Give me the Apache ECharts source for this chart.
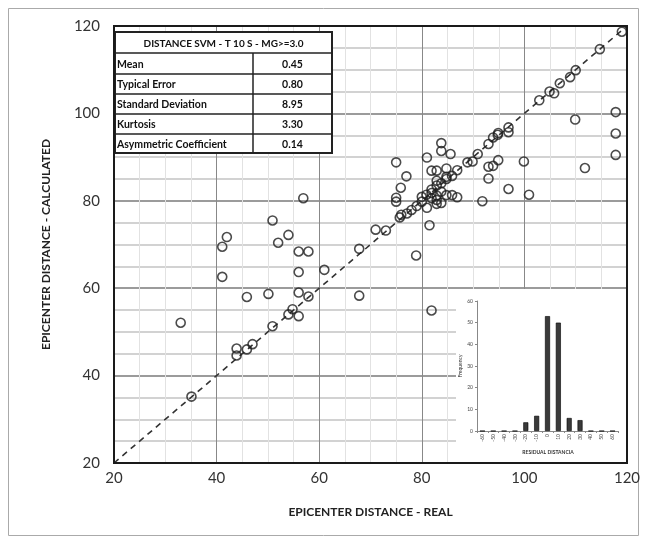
<!DOCTYPE html>
<html><head><meta charset="utf-8">
<script src="https://cdn.jsdelivr.net/npm/echarts@6/dist/echarts.min.js"></script>
<style>html,body{margin:0;padding:0;background:#fff}#c{width:646px;height:542px}</style>
</head><body><div id="c"></div>
<script>
// Scatter: [real, calculated]
var points = [
[33.0,52.1],[35.1,35.2],[43.9,46.2],[43.9,44.6],[45.9,46.0],[47.0,47.2],[50.9,51.3],[54.0,54.0],[54.8,55.2],[56.0,53.6],
[57.9,58.1],[56.0,59.0],[50.1,58.7],[45.9,58.0],[61.0,64.2],[56.0,63.7],[41.1,62.6],[56.0,68.4],[57.9,68.4],[41.1,69.5],
[52.0,70.4],[67.8,69.0],[67.8,58.3],[56.9,80.6],[50.9,75.5],[42.0,71.7],[54.0,72.2],
[81.9,54.9],[71.0,73.4],[73.0,73.2],[78.9,67.5],[81.5,74.4],[75.7,76.2],[76.0,76.8],[77.1,77.1],[78.0,77.9],[79.0,78.8],
[80.0,79.8],[80.0,80.9],[81.0,78.4],[80.9,81.4],[81.9,81.8],[81.9,82.6],[82.9,79.3],[82.9,81.2],[82.9,83.5],[82.9,84.6],
[83.8,79.5],[83.8,82.1],[83.8,84.0],[84.8,81.3],[84.8,85.0],[85.9,81.3],[85.9,85.7],[86.9,80.8],[81.9,86.9],[82.9,86.9],
[84.8,87.4],[86.9,87.0],[81.9,80.6],[82.9,80.2],[84.8,85.5],[81.0,89.9],[83.8,93.2],[83.8,91.4],[85.6,90.7],[75.0,88.8],
[77.0,85.6],[75.9,83.0],[75.0,80.7],[75.0,79.8],[88.9,88.8],[89.9,89.0],[90.9,90.7],[93.0,93.0],[93.9,94.5],[94.8,95.1],
[94.9,95.5],[96.9,96.8],[96.9,95.7],[93.0,87.8],[93.9,88.0],[94.9,89.3],[93.0,85.1],[91.8,79.9],[96.9,82.7],[99.9,89.0],
[100.9,81.4],[102.9,103.0],[104.9,105.0],[105.8,104.6],[106.9,106.9],[108.9,108.3],[110.0,109.9],[114.7,114.7],[119.0,118.7],
[109.9,98.6],[111.8,87.5],[117.8,100.3],[117.8,95.4],[117.8,90.5]
];
var diagonal = [[20,20],[120,120]];
// Inset histogram
var residualBins = ['-60','-50','-40','-30','-20','-10','0','10','20','30','40','50','60'];
var frequency = [0,0,0,0,4,7,53,50,6,5,0,0,0];
// Statistics table
var tableTitle = 'DISTANCE SVM - T 10 S - MG>=3.0';
var statNames = ['Mean','Typical Error','Standard Deviation','Kurtosis','Asymmetric Coefficient'];
var statValues = ['0.45','0.80','8.95','3.30','0.14'];

var FONT = 'Lato, "Open Sans", sans-serif';
var chart = echarts.init(document.getElementById('c'));

var graphics = [];
// outer frame
graphics.push({type:'rect', shape:{x:8.5,y:8.5,width:630,height:527}, style:{fill:null, stroke:'#aaa', lineWidth:1}, z:0, silent:true});
// table
var tx=115, ty=32, tw=217, rowH=[21,21,20,20,20,19], col=253;
var tableH = rowH.reduce(function(a,b){return a+b;},0);
graphics.push({type:'rect', shape:{x:tx,y:ty,width:tw,height:tableH}, style:{fill:'#fff', stroke:'#222', lineWidth:2}, z:70, silent:true});
var yy = ty;
for (var i=0;i<rowH.length;i++){
  var h=rowH[i];
  if (i>0) graphics.push({type:'line', shape:{x1:tx,y1:yy,x2:tx+tw,y2:yy}, style:{stroke:'#222', lineWidth:1.5}, z:71, silent:true});
  if (i===0){
    graphics.push({type:'text', x:tx+tw/2, y:yy+h/2+1, style:{text:tableTitle, font:'bold 10px '+FONT, fill:'#111', textAlign:'center', textVerticalAlign:'middle'}, z:72, silent:true});
  } else {
    graphics.push({type:'text', x:tx+2, y:yy+h/2+1, style:{text:statNames[i-1], font:'bold 10.5px '+FONT, fill:'#111', textAlign:'left', textVerticalAlign:'middle'}, z:72, silent:true});
    graphics.push({type:'text', x:(col+tx+tw)/2, y:yy+h/2+1, style:{text:statValues[i-1], font:'bold 10.5px '+FONT, fill:'#111', textAlign:'center', textVerticalAlign:'middle'}, z:72, silent:true});
  }
  yy+=h;
}
graphics.push({type:'line', shape:{x1:col,y1:ty+rowH[0],x2:col,y2:ty+tableH}, style:{stroke:'#222', lineWidth:1.5}, z:71, silent:true});
// inset titles
graphics.push({type:'text', x:548, y:452, style:{text:'RESIDUAL DISTANCIA', font:'bold 5px '+FONT, fill:'#333', textAlign:'center', textVerticalAlign:'middle'}, z:80, silent:true});

var option = {
  animation:false,
  backgroundColor:'#fff',
  graphic: graphics,
  grid:[
    {left:114, top:26, width:513, height:437, show:true, borderColor:'#1a1a1a', borderWidth:2, z:90},
    {left:477, top:301, width:141, height:130, z:60},
    {left:456, top:289, width:170, height:173, show:true, backgroundColor:'#fff', borderWidth:0, z:50}
  ],
  xAxis:[
    {gridIndex:0, type:'value', min:20, max:120, interval:20,
     name:'EPICENTER DISTANCE - REAL', nameLocation:'middle', nameGap:43,
     nameTextStyle:{fontFamily:FONT, fontWeight:'bold', fontSize:12, color:'#222'},
     axisLine:{show:false}, axisTick:{show:false},
     axisLabel:{fontFamily:FONT, fontSize:15, color:'#333', margin:8},
     splitLine:{show:true, lineStyle:{color:'#888', width:1}},
     minorTick:{show:false, splitNumber:4},
     minorSplitLine:{show:true, lineStyle:{color:'#e2e2e2', width:1}}},
    {gridIndex:1, type:'category', data:residualBins, boundaryGap:true, z:60,
     axisLine:{show:true, lineStyle:{color:'#888', width:1}}, axisTick:{show:true, lineStyle:{color:'#888'}, length:2},
     axisLabel:{show:true, fontFamily:FONT, fontSize:5, color:'#444', rotate:90, margin:3, interval:0},
     splitLine:{show:false}},
    {gridIndex:2, type:'value', show:false, min:0, max:1}
  ],
  yAxis:[
    {gridIndex:0, type:'value', min:20, max:120, interval:20,
     name:'EPICENTER DISTANCE - CALCULATED', nameLocation:'middle', nameGap:62, nameRotate:90,
     nameTextStyle:{fontFamily:FONT, fontWeight:'bold', fontSize:12, color:'#222'},
     axisLine:{show:false}, axisTick:{show:false},
     axisLabel:{fontFamily:FONT, fontSize:15, color:'#333', margin:14},
     splitLine:{show:true, lineStyle:{color:'#7a7a7a', width:1.5}},
     minorTick:{show:false, splitNumber:4},
     minorSplitLine:{show:true, lineStyle:{color:'#c4c4c4', width:1.5}}},
    {gridIndex:1, type:'value', min:0, max:60, interval:10, z:60,
     name:'Frequency', nameLocation:'middle', nameGap:12, nameRotate:90,
     nameTextStyle:{fontFamily:FONT, fontSize:5, color:'#333'},
     axisLine:{show:true, lineStyle:{color:'#888', width:1}}, axisTick:{show:true, length:2, lineStyle:{color:'#888'}},
     axisLabel:{show:true, fontFamily:FONT, fontSize:5, color:'#444', margin:4},
     splitLine:{show:false}},
    {gridIndex:2, type:'value', show:false, min:0, max:1}
  ],
  series:[
    {type:'line', xAxisIndex:0, yAxisIndex:0, data:diagonal, symbol:'none',
     lineStyle:{color:'#333', width:1.6, type:[6,5]}, z:3, silent:true},
    {type:'scatter', xAxisIndex:0, yAxisIndex:0, data:points, symbol:'circle', symbolSize:9,
     itemStyle:{color:'rgba(255,255,255,0)', borderColor:'#1e1e1e', borderWidth:1.6}, z:4},
    {type:'bar', xAxisIndex:1, yAxisIndex:1, data:frequency, barWidth:5,
     itemStyle:{color:'#3a3a3a', borderColor:'#000', borderWidth:0.6}, z:61}
  ]
};
chart.setOption(option);
</script></body></html>
